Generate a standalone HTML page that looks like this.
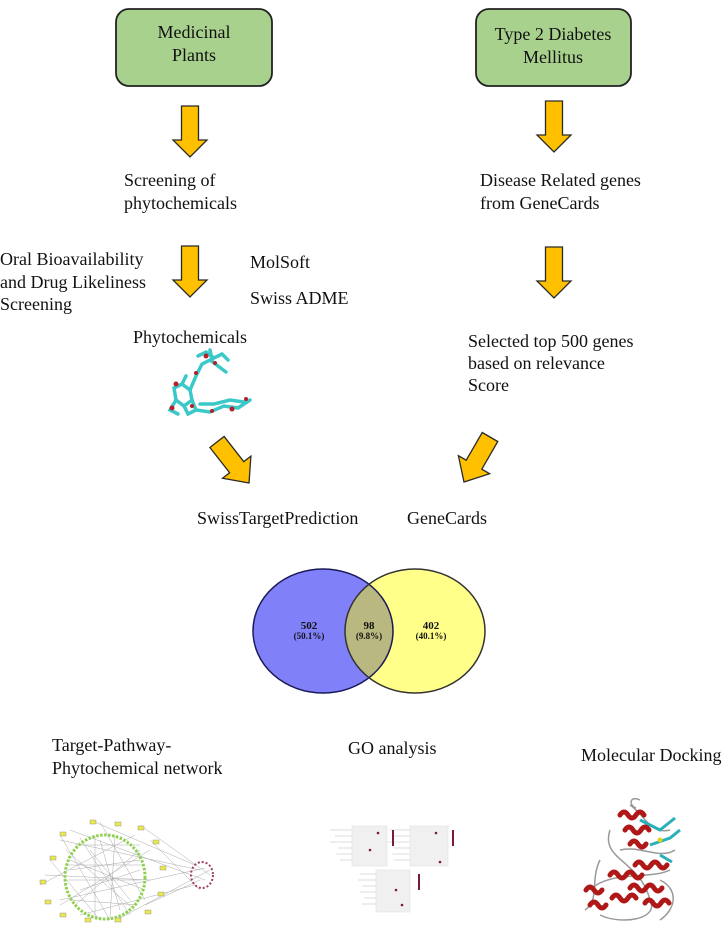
<!DOCTYPE html>
<html><head><meta charset="utf-8"><style>
html,body{margin:0;padding:0;background:#fff;}
svg{display:block;font-family:"Liberation Serif","DejaVu Serif",serif;}
text{font-family:"Liberation Serif","DejaVu Serif",serif;fill:#111;}
</style></head><body>
<svg width="722" height="930" viewBox="0 0 722 930" xmlns="http://www.w3.org/2000/svg" font-family="Liberation Serif, serif">
<defs>
<path id="va" d="M-8.5,0 H8.5 V34 H17 L0,51 L-17,34 H-8.5 Z" fill="#FFC000" stroke="#2a2a2a" stroke-width="1.3"/>
</defs>
<rect x="116" y="9" width="156" height="77" rx="13" fill="#A9D18E" stroke="#222" stroke-width="1.8"/>
<text x="194" y="38" font-size="18" text-anchor="middle">Medicinal</text>
<text x="194" y="61" font-size="18" text-anchor="middle">Plants</text>
<rect x="476" y="9" width="155" height="77" rx="13" fill="#A9D18E" stroke="#222" stroke-width="1.8"/>
<text x="553" y="40" font-size="18" text-anchor="middle">Type 2 Diabetes</text>
<text x="553" y="63" font-size="18" text-anchor="middle">Mellitus</text>
<use href="#va" transform="translate(190,106)"/>
<use href="#va" transform="translate(554,101)"/>
<use href="#va" transform="translate(190,246)"/>
<use href="#va" transform="translate(554,247)"/>
<text x="124" y="186" font-size="18">Screening of</text>
<text x="124" y="209" font-size="18">phytochemicals</text>
<text x="0" y="265" font-size="18">Oral Bioavailability</text>
<text x="0" y="288" font-size="18">and Drug Likeliness</text>
<text x="0" y="310" font-size="18">Screening</text>
<text x="250" y="268" font-size="18">MolSoft</text>
<text x="250" y="304" font-size="18">Swiss ADME</text>
<text x="133" y="343" font-size="18">Phytochemicals</text>
<text x="480" y="186" font-size="18">Disease Related genes</text>
<text x="480" y="209" font-size="18">from GeneCards</text>
<text x="468" y="347" font-size="18">Selected top 500 genes</text>
<text x="468" y="369" font-size="18">based on relevance</text>
<text x="468" y="391" font-size="18">Score</text>
<g stroke="#3cc8c8" stroke-width="3.5" fill="none" stroke-linecap="round">
<path d="M174,388 L182,384 L190,390 L192,400 L184,406 L176,400 Z"/>
<path d="M184,406 L188,414 L196,410 L192,400"/>
<path d="M190,390 L196,376 L202,364 L210,360 L218,366 L226,372"/>
<path d="M198,356 L206,352 L214,358 L222,354 L228,360"/>
<path d="M196,410 L210,412 L224,406 L238,408 L250,400"/>
<path d="M200,404 L214,404 L230,400 L244,402"/>
<path d="M176,400 L170,410 L178,414"/>
<path d="M182,384 L186,376 M212,360 L210,350"/>
</g>
<g fill="#b3202a">
<circle cx="176" cy="384" r="2.5"/><circle cx="172" cy="408" r="2.5"/><circle cx="196" cy="373" r="2"/>
<circle cx="206" cy="356" r="2.5"/><circle cx="215" cy="363" r="2"/><circle cx="232" cy="409" r="2.5"/>
<circle cx="246" cy="399" r="2"/><circle cx="212" cy="411" r="2"/><circle cx="192" cy="406" r="2"/>
</g>
<path d="M-9,0 H9 V32 H18 L0,52 L-18,32 H-9 Z" fill="#FFC000" stroke="#2a2a2a" stroke-width="1.3" transform="translate(217,442) rotate(-38)"/>
<path d="M-9,0 H9 V32 H18 L0,52 L-18,32 H-9 Z" fill="#FFC000" stroke="#2a2a2a" stroke-width="1.3" transform="translate(490,437) rotate(30)"/>
<text x="197" y="524" font-size="18">SwissTargetPrediction</text>
<text x="407" y="524" font-size="18">GeneCards</text>
<ellipse cx="323" cy="631" rx="70" ry="62" fill="#8080F8"/>
<ellipse cx="415" cy="631" rx="70" ry="62" fill="#FFFF8A"/>
<clipPath id="cl"><ellipse cx="323" cy="631" rx="70" ry="62"/></clipPath>
<ellipse cx="415" cy="631" rx="70" ry="62" fill="#B8B880" clip-path="url(#cl)"/>
<ellipse cx="323" cy="631" rx="70" ry="62" fill="none" stroke="#1a1a5a" stroke-width="1.5"/>
<ellipse cx="415" cy="631" rx="70" ry="62" fill="none" stroke="#333" stroke-width="1.5"/>
<g font-weight="bold" text-anchor="middle">
<text x="309" y="629" font-size="11">502</text><text x="309" y="639" font-size="9">(50.1%)</text>
<text x="369" y="629" font-size="11">98</text><text x="369" y="639" font-size="9">(9.8%)</text>
<text x="431" y="629" font-size="11">402</text><text x="431" y="639" font-size="9">(40.1%)</text>
</g>
<text x="52" y="751" font-size="18">Target-Pathway-</text>
<text x="52" y="774" font-size="18">Phytochemical network</text>
<text x="348" y="754" font-size="18">GO analysis</text>
<text x="581" y="761" font-size="18">Molecular Docking</text>
<g stroke="#aaa" stroke-width="0.5">
<path d="M60,840 L200,870 M70,830 L205,880 M90,820 L195,865 M140,825 L210,875 M150,840 L200,890 M60,900 L205,868 M80,915 L195,885 M120,918 L210,870 M145,905 L200,880 M45,875 L150,880 M70,870 L140,860 M80,890 L140,870 M90,850 L130,900 M100,840 L120,910 M70,860 L145,890 M50,860 L100,920 M60,835 L110,920 M150,850 L60,905 M40,885 L135,835 M100,822 L145,900 M75,845 L140,845 M72,900 L138,905 M68,880 L142,880 M80,838 L130,915 M95,836 L95,918 M115,836 L110,918 M65,865 L145,865 M75,905 L140,850 M66,850 L135,910"/>
</g>
<ellipse cx="105" cy="877" rx="40" ry="42" fill="none" stroke="#8fd14f" stroke-width="3" stroke-dasharray="2.5 1.5"/>
<g fill="#e8e850" stroke="#888" stroke-width="0.4">
<rect x="90" y="820" width="6" height="4"/><rect x="115" y="822" width="6" height="4"/><rect x="138" y="826" width="6" height="4"/>
<rect x="60" y="832" width="6" height="4"/><rect x="153" y="840" width="6" height="4"/><rect x="50" y="856" width="6" height="4"/>
<rect x="40" y="880" width="6" height="4"/><rect x="160" y="866" width="6" height="4"/><rect x="45" y="900" width="6" height="4"/>
<rect x="158" y="892" width="6" height="4"/><rect x="60" y="913" width="6" height="4"/><rect x="145" y="910" width="6" height="4"/>
<rect x="85" y="918" width="6" height="4"/><rect x="115" y="918" width="6" height="4"/>
</g>
<ellipse cx="202" cy="875" rx="11" ry="13" fill="none" stroke="#a04060" stroke-width="2" stroke-dasharray="2 2"/>
<g fill="#f0f0f0" stroke="#ddd" stroke-width="0.5">
<rect x="352" y="826" width="35" height="40"/><rect x="410" y="826" width="38" height="40"/><rect x="376" y="870" width="34" height="42"/>
</g>
<g stroke="#bbb" stroke-width="0.6">
<path d="M330,830 H352 M335,836 H352 M330,842 H352 M338,848 H352 M336,854 H352 M340,860 H352 M390,830 H410 M392,836 H410 M388,842 H410 M394,848 H410 M392,854 H410 M394,860 H410 M360,874 H376 M358,880 H376 M362,886 H376 M360,892 H376 M364,898 H376 M362,904 H376"/>
</g>
<g fill="#7a1a3a">
<rect x="392" y="830" width="2" height="16"/><rect x="452" y="830" width="2" height="16"/><rect x="418" y="874" width="2" height="16"/>
<circle cx="378" cy="833" r="1.3"/><circle cx="370" cy="850" r="1.3"/><circle cx="436" cy="833" r="1.3"/><circle cx="440" cy="862" r="1.3"/><circle cx="396" cy="890" r="1.3"/><circle cx="402" cy="905" r="1.3"/>
</g>
<g fill="none" stroke="#999" stroke-width="1.5">
<path d="M610,830 C600,860 640,860 650,900 C660,920 620,925 600,915 M630,805 C645,815 650,835 670,830 M590,890 C610,870 650,880 670,870 M620,850 C640,845 660,860 675,850 M600,860 C590,880 600,900 585,910 M660,880 C680,890 675,910 660,920 M640,800 C630,795 628,805 636,808"/>
</g>
<g fill="none" stroke="#2ab0b8" stroke-width="3">
<path d="M640,820 L660,830 L675,818 M650,845 L670,838 L680,830 M660,855 L672,862"/>
</g>
<g fill="none" stroke="#b01818" stroke-width="5" stroke-linecap="round">
<path d="M620,815 q4,-6 8,0 q4,6 8,0 q4,-6 8,0"/>
<path d="M625,830 q4,-6 8,0 q4,6 8,0 q4,-6 8,0"/>
<path d="M630,844 q4,-6 8,0 q4,6 8,0"/>
<path d="M635,865 q4,-6 8,0 q4,6 8,0 q4,-6 8,0 q4,6 8,0"/>
<path d="M610,875 q4,-6 8,0 q4,6 8,0 q4,-6 8,0 q4,6 8,0"/>
<path d="M630,888 q4,-6 8,0 q4,6 8,0 q4,-6 8,0 q4,6 8,0"/>
<path d="M645,903 q4,-6 8,0 q4,6 8,0 q4,-6 8,0"/>
<path d="M586,890 q4,-6 8,0 q4,6 8,0"/>
<path d="M590,905 q4,-6 8,0 q4,6 8,0"/>
<path d="M612,898 q4,-6 8,0 q4,6 8,0 q4,-6 8,0"/>
</g>
<circle cx="660" cy="840" r="2.5" fill="#e0d020"/>
</svg>
</body></html>
